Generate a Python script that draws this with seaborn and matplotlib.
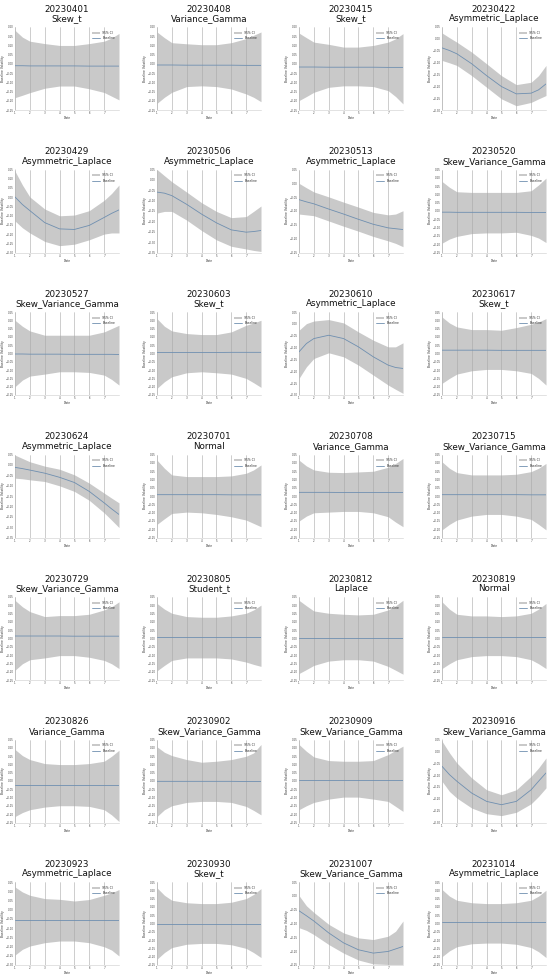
import matplotlib
matplotlib.use("Agg")
import matplotlib.pyplot as plt
import seaborn as sns
import pandas as pd
from matplotlib.ticker import MultipleLocator
from matplotlib.patches import Patch
from matplotlib.lines import Line2D

# ---------------- data ----------------
DATES = ["20230401", "20230408", "20230415", "20230422",
         "20230429", "20230506", "20230513", "20230520",
         "20230527", "20230603", "20230610", "20230617",
         "20230624", "20230701", "20230708", "20230715",
         "20230729", "20230805", "20230812", "20230819",
         "20230826", "20230902", "20230909", "20230916",
         "20230923", "20230930", "20231007", "20231014"]
DISTS = ["Skew_t", "Variance_Gamma", "Skew_t", "Asymmetric_Laplace",
         "Asymmetric_Laplace", "Asymmetric_Laplace", "Asymmetric_Laplace", "Skew_Variance_Gamma",
         "Skew_Variance_Gamma", "Skew_t", "Asymmetric_Laplace", "Skew_t",
         "Asymmetric_Laplace", "Normal", "Variance_Gamma", "Skew_Variance_Gamma",
         "Skew_Variance_Gamma", "Student_t", "Laplace", "Normal",
         "Variance_Gamma", "Skew_Variance_Gamma", "Skew_Variance_Gamma", "Skew_Variance_Gamma",
         "Asymmetric_Laplace", "Skew_t", "Skew_Variance_Gamma", "Asymmetric_Laplace"]

DAYS = [1, 1.5, 2, 3, 4, 5, 6, 7, 7.5, 8]

YLIMS = [(-0.25, 0.2), (-0.25, 0.2), (-0.25, 0.2), (-0.3, 0.05),
         (-0.3, 0.15), (-0.35, 0.05), (-0.25, 0.05), (-0.25, 0.25),
         (-0.25, 0.25), (-0.25, 0.25), (-0.3, 0.05), (-0.25, 0.25),
         (-0.35, 0.05), (-0.25, 0.25), (-0.25, 0.25), (-0.25, 0.25),
         (-0.25, 0.25), (-0.25, 0.25), (-0.25, 0.25), (-0.25, 0.25),
         (-0.25, 0.25), (-0.25, 0.25), (-0.25, 0.25), (-0.3, 0.05),
         (-0.3, 0.15), (-0.25, 0.25), (-0.25, 0.05), (-0.25, 0.25)]

MEAN = [
    [-0.010, -0.010, -0.011, -0.011, -0.011, -0.011, -0.012, -0.012, -0.012, -0.012],
    [-0.006, -0.006, -0.006, -0.007, -0.007, -0.007, -0.007, -0.008, -0.008, -0.008],
    [-0.017, -0.017, -0.017, -0.018, -0.018, -0.018, -0.018, -0.019, -0.019, -0.019],
    [-0.038, -0.049, -0.063, -0.105, -0.155, -0.201, -0.232, -0.229, -0.215, -0.190],
    [0.001, -0.040, -0.073, -0.138, -0.172, -0.175, -0.153, -0.110, -0.088, -0.069],
    [-0.059, -0.064, -0.076, -0.118, -0.165, -0.207, -0.241, -0.252, -0.249, -0.244],
    [-0.059, -0.067, -0.074, -0.093, -0.111, -0.130, -0.148, -0.161, -0.164, -0.167],
    [-0.007, -0.007, -0.008, -0.008, -0.008, -0.008, -0.008, -0.009, -0.009, -0.009],
    [-0.003, -0.003, -0.004, -0.004, -0.004, -0.005, -0.005, -0.005, -0.005, -0.006],
    [0.006, 0.006, 0.006, 0.006, 0.006, 0.006, 0.007, 0.007, 0.007, 0.007],
    [-0.118, -0.083, -0.062, -0.048, -0.062, -0.097, -0.139, -0.174, -0.184, -0.188],
    [0.020, 0.020, 0.020, 0.020, 0.020, 0.019, 0.019, 0.019, 0.019, 0.019],
    [-0.012, -0.018, -0.025, -0.040, -0.060, -0.085, -0.128, -0.183, -0.212, -0.239],
    [0.008, 0.008, 0.008, 0.008, 0.008, 0.008, 0.007, 0.007, 0.007, 0.007],
    [0.022, 0.022, 0.022, 0.022, 0.021, 0.021, 0.021, 0.021, 0.021, 0.021],
    [0.008, 0.008, 0.008, 0.008, 0.008, 0.008, 0.008, 0.007, 0.007, 0.007],
    [0.015, 0.015, 0.015, 0.015, 0.015, 0.014, 0.014, 0.014, 0.014, 0.014],
    [0.009, 0.009, 0.009, 0.009, 0.009, 0.009, 0.009, 0.009, 0.009, 0.009],
    [0.005, 0.005, 0.005, 0.005, 0.005, 0.005, 0.005, 0.005, 0.005, 0.005],
    [0.011, 0.011, 0.011, 0.011, 0.011, 0.011, 0.011, 0.011, 0.011, 0.011],
    [-0.022, -0.022, -0.022, -0.022, -0.022, -0.022, -0.022, -0.022, -0.022, -0.022],
    [-0.002, -0.002, -0.002, -0.002, -0.002, -0.002, -0.002, -0.003, -0.003, -0.003],
    [0.008, 0.008, 0.008, 0.008, 0.008, 0.008, 0.008, 0.008, 0.008, 0.008],
    [-0.063, -0.098, -0.126, -0.176, -0.211, -0.225, -0.211, -0.162, -0.126, -0.091],
    [-0.057, -0.057, -0.057, -0.057, -0.057, -0.057, -0.057, -0.057, -0.057, -0.057],
    [-0.005, -0.005, -0.005, -0.005, -0.005, -0.005, -0.005, -0.005, -0.005, -0.005],
    [-0.054, -0.072, -0.091, -0.134, -0.170, -0.195, -0.207, -0.201, -0.192, -0.183],
    [0.010, 0.010, 0.010, 0.010, 0.010, 0.010, 0.010, 0.010, 0.010, 0.010],
]

UPPER = [
    [0.182, 0.145, 0.123, 0.110, 0.100, 0.100, 0.110, 0.123, 0.140, 0.165],
    [0.173, 0.142, 0.115, 0.109, 0.104, 0.104, 0.115, 0.137, 0.155, 0.173],
    [0.167, 0.142, 0.118, 0.106, 0.091, 0.091, 0.100, 0.118, 0.136, 0.164],
    [0.025, 0.005, -0.014, -0.056, -0.105, -0.155, -0.193, -0.183, -0.155, -0.112],
    [0.141, 0.066, 0.001, -0.064, -0.101, -0.097, -0.073, -0.017, 0.020, 0.066],
    [0.050, 0.020, -0.009, -0.059, -0.110, -0.152, -0.182, -0.177, -0.152, -0.126],
    [0.000, -0.016, -0.031, -0.049, -0.068, -0.086, -0.105, -0.114, -0.111, -0.099],
    [0.178, 0.143, 0.116, 0.112, 0.112, 0.112, 0.112, 0.122, 0.157, 0.198],
    [0.200, 0.164, 0.136, 0.110, 0.110, 0.110, 0.110, 0.130, 0.150, 0.170],
    [0.210, 0.164, 0.136, 0.120, 0.114, 0.114, 0.130, 0.170, 0.184, 0.200],
    [-0.027, 0.001, 0.012, 0.018, 0.004, -0.034, -0.069, -0.097, -0.097, -0.080],
    [0.220, 0.184, 0.160, 0.144, 0.144, 0.140, 0.156, 0.176, 0.190, 0.210],
    [0.047, 0.031, 0.015, -0.006, -0.021, -0.048, -0.088, -0.136, -0.160, -0.183],
    [0.216, 0.167, 0.127, 0.117, 0.117, 0.117, 0.121, 0.137, 0.157, 0.187],
    [0.216, 0.181, 0.157, 0.143, 0.141, 0.145, 0.149, 0.173, 0.196, 0.226],
    [0.206, 0.167, 0.141, 0.127, 0.127, 0.127, 0.131, 0.147, 0.167, 0.196],
    [0.230, 0.191, 0.162, 0.132, 0.138, 0.138, 0.146, 0.172, 0.191, 0.221],
    [0.211, 0.177, 0.152, 0.132, 0.128, 0.128, 0.136, 0.152, 0.172, 0.201],
    [0.230, 0.197, 0.166, 0.152, 0.146, 0.142, 0.146, 0.172, 0.197, 0.230],
    [0.221, 0.177, 0.146, 0.136, 0.136, 0.132, 0.136, 0.152, 0.177, 0.211],
    [0.190, 0.153, 0.129, 0.105, 0.099, 0.099, 0.105, 0.119, 0.149, 0.185],
    [0.206, 0.173, 0.153, 0.129, 0.113, 0.119, 0.129, 0.149, 0.169, 0.220],
    [0.220, 0.179, 0.145, 0.123, 0.119, 0.119, 0.123, 0.159, 0.185, 0.210],
    [0.043, -0.006, -0.049, -0.112, -0.162, -0.183, -0.162, -0.105, -0.070, -0.028],
    [0.123, 0.096, 0.078, 0.060, 0.056, 0.047, 0.055, 0.078, 0.091, 0.109],
    [0.215, 0.170, 0.140, 0.125, 0.120, 0.120, 0.128, 0.150, 0.175, 0.210],
    [0.001, -0.036, -0.060, -0.103, -0.134, -0.152, -0.158, -0.146, -0.128, -0.091],
    [0.205, 0.165, 0.140, 0.125, 0.120, 0.120, 0.125, 0.140, 0.165, 0.200],
]

LOWER = [
    [-0.183, -0.170, -0.156, -0.132, -0.120, -0.120, -0.135, -0.155, -0.175, -0.195],
    [-0.214, -0.181, -0.154, -0.123, -0.119, -0.123, -0.136, -0.163, -0.181, -0.205],
    [-0.199, -0.177, -0.154, -0.127, -0.119, -0.119, -0.123, -0.145, -0.177, -0.217],
    [-0.091, -0.101, -0.112, -0.155, -0.204, -0.253, -0.282, -0.268, -0.253, -0.239],
    [-0.129, -0.166, -0.194, -0.240, -0.263, -0.255, -0.231, -0.200, -0.194, -0.194],
    [-0.160, -0.152, -0.152, -0.194, -0.244, -0.289, -0.320, -0.333, -0.340, -0.345],
    [-0.111, -0.114, -0.117, -0.136, -0.155, -0.173, -0.192, -0.208, -0.217, -0.229],
    [-0.194, -0.169, -0.153, -0.136, -0.132, -0.132, -0.128, -0.147, -0.163, -0.190],
    [-0.200, -0.160, -0.136, -0.124, -0.110, -0.110, -0.114, -0.130, -0.156, -0.190],
    [-0.210, -0.170, -0.140, -0.116, -0.110, -0.116, -0.124, -0.150, -0.176, -0.204],
    [-0.230, -0.181, -0.146, -0.122, -0.139, -0.174, -0.216, -0.258, -0.276, -0.293],
    [-0.180, -0.150, -0.124, -0.104, -0.096, -0.096, -0.104, -0.120, -0.150, -0.190],
    [-0.064, -0.067, -0.072, -0.080, -0.101, -0.128, -0.171, -0.231, -0.266, -0.302],
    [-0.171, -0.137, -0.105, -0.097, -0.101, -0.111, -0.125, -0.145, -0.165, -0.185],
    [-0.151, -0.121, -0.101, -0.097, -0.093, -0.093, -0.101, -0.125, -0.157, -0.185],
    [-0.204, -0.171, -0.145, -0.121, -0.111, -0.111, -0.121, -0.141, -0.171, -0.204],
    [-0.191, -0.152, -0.128, -0.117, -0.103, -0.103, -0.113, -0.132, -0.152, -0.181],
    [-0.195, -0.162, -0.132, -0.117, -0.117, -0.117, -0.123, -0.142, -0.156, -0.168],
    [-0.211, -0.187, -0.162, -0.136, -0.128, -0.128, -0.136, -0.168, -0.191, -0.215],
    [-0.181, -0.152, -0.128, -0.109, -0.103, -0.103, -0.109, -0.128, -0.152, -0.181],
    [-0.214, -0.190, -0.173, -0.157, -0.149, -0.149, -0.153, -0.173, -0.204, -0.244],
    [-0.214, -0.173, -0.149, -0.129, -0.123, -0.123, -0.129, -0.153, -0.177, -0.204],
    [-0.173, -0.149, -0.129, -0.109, -0.097, -0.097, -0.109, -0.123, -0.153, -0.183],
    [-0.126, -0.169, -0.197, -0.239, -0.263, -0.271, -0.257, -0.221, -0.190, -0.154],
    [-0.246, -0.215, -0.197, -0.179, -0.170, -0.170, -0.179, -0.201, -0.219, -0.251],
    [-0.215, -0.175, -0.145, -0.125, -0.120, -0.120, -0.128, -0.150, -0.175, -0.205],
    [-0.115, -0.125, -0.140, -0.176, -0.207, -0.232, -0.246, -0.248, -0.248, -0.248],
    [-0.200, -0.165, -0.140, -0.122, -0.118, -0.118, -0.125, -0.145, -0.170, -0.205],
]

XTICKS = [1, 2, 3, 4, 5, 6, 7]
LEGEND_LABELS = ["95% CI", "Baseline"]

# ---------------- drawing ----------------
sns.set_theme(style="white")
plt.rcParams["font.family"] = ["DejaVu Sans"]

W, H = 550, 974
fig = plt.figure(figsize=(W / 100, H / 100), dpi=100)

band_color = "#c9c9c9"
line_color = "#6f8fb0"

ax_left = [15, 157, 299, 442]
ax_w, ax_h = 104, 83
row_top0, row_step = 27, 142.5

for i in range(28):
    r, c = divmod(i, 4)
    top = row_top0 + r * row_step
    ax = fig.add_axes([ax_left[c] / W, 1 - (top + ax_h) / H, ax_w / W, ax_h / H])
    df = pd.DataFrame({"Date": DAYS, "mean": MEAN[i], "lo": LOWER[i], "hi": UPPER[i]})
    ax.fill_between(df["Date"], df["lo"], df["hi"], color=band_color, lw=0, zorder=1)
    sns.lineplot(data=df, x="Date", y="mean", ax=ax, color=line_color, lw=0.6, zorder=3)
    ax.set_xlim(1, 8)
    ax.set_ylim(*YLIMS[i])
    ax.set_xticks(XTICKS)
    ax.yaxis.set_major_locator(MultipleLocator(0.05))
    ax.grid(axis="x", color="#a8a8a8", lw=0.4, zorder=2)
    ax.grid(axis="y", visible=False)
    ax.set_axisbelow(False)
    ax.tick_params(labelsize=1.9, length=0, pad=0.8, colors="#444444")
    ax.set_xlabel("Date", fontsize=2.2, labelpad=0.8, color="#333333")
    ax.set_ylabel("Baseline Volatility", fontsize=2.2, labelpad=0.8, color="#333333")
    for s in ["top", "right"]:
        ax.spines[s].set_visible(False)
    for s in ["left", "bottom"]:
        ax.spines[s].set_color("#cccccc")
        ax.spines[s].set_linewidth(0.4)
    handles = [Patch(facecolor=band_color, edgecolor="none"),
               Line2D([0], [0], color=line_color, lw=0.6)]
    ax.legend(handles, LEGEND_LABELS, loc="upper right", fontsize=2.2,
              frameon=False, handlelength=2.5, borderaxespad=0.8)
    ax.set_title(f"{DATES[i]}\n{DISTS[i]}", fontsize=6.3, color="#111111",
                 pad=4, linespacing=1.1)

fig.savefig("out.png", dpi=100, facecolor="white")
